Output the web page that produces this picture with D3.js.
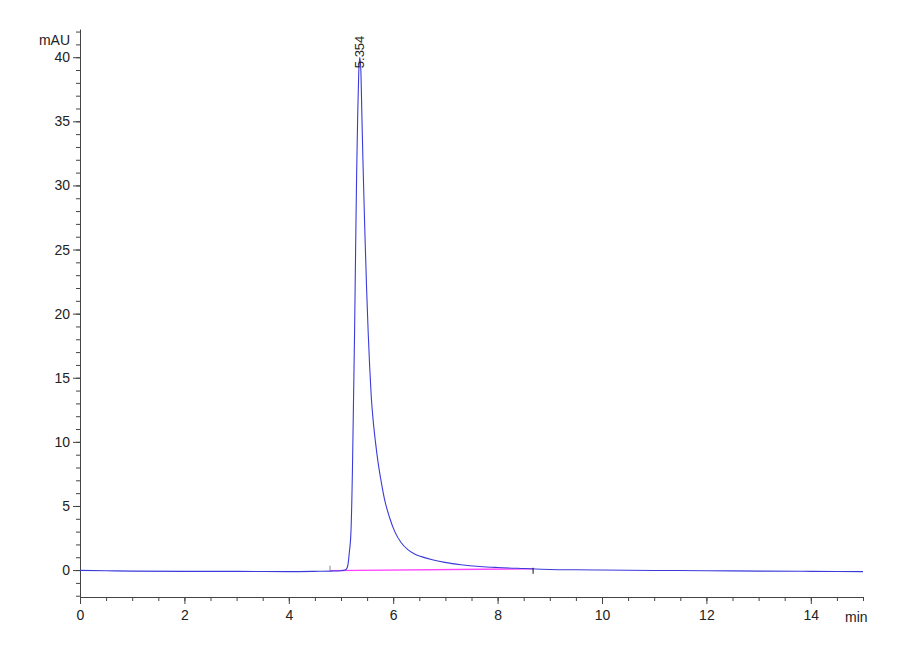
<!DOCTYPE html>
<html>
<head>
<meta charset="utf-8">
<script src="https://cdn.jsdelivr.net/npm/d3@7"></script>
<style>
  body { margin: 0; background: #fff; }
  svg text { font-family: "Liberation Sans Narrow", "Liberation Sans", Arial, sans-serif; fill: #222; }
</style>
</head>
<body>
<svg id="chart" width="900" height="660"></svg>
<script>
// chromatogram trace (time in min, signal in mAU)
const times = [0, 0.5, 1, 2, 3, 4, 4.5, 4.8, 5.0, 5.08, 5.12, 5.14, 5.16, 5.19, 5.22, 5.24,
    5.26, 5.28, 5.30, 5.32, 5.34, 5.36, 5.38, 5.40, 5.42, 5.44, 5.46, 5.49, 5.52, 5.55,
    5.58, 5.62, 5.66, 5.71, 5.77, 5.83, 5.93, 6.03, 6.15, 6.28, 6.4, 6.54, 6.75, 6.99, 7.3,
    7.66, 8.0, 8.5, 9.0, 9.5, 10, 11, 12, 13, 14, 15];
const signal = [-0.02, -0.05, -0.08, -0.1, -0.1, -0.12, -0.1, -0.08, -0.05, 0.0, 0.2, 0.6, 1.4, 2.9, 8.0, 13.3,
    18.5, 25, 31, 35.5, 38.8, 40.0, 39.0, 35.5, 32.0, 28.9, 26.0, 22.0, 18.6, 15.8,
    13.5, 11.5, 10.0, 8.4, 6.9, 5.6, 4.1, 3.0, 2.15, 1.6, 1.28, 1.05, 0.8, 0.6, 0.42,
    0.28, 0.2, 0.12, 0.05, 0.02, 0.0, -0.03, -0.05, -0.08, -0.1, -0.12];

// integration baseline (start / end of peak)
const baseTimes = [4.79, 8.68];
const baseSignal = [-0.05, 0.1];

// peak annotation
const peakTime = 5.354;
const peakHeight = 40.0;
const peakLabel = "5.354";

const xTicks = [0, 2, 4, 6, 8, 10, 12, 14];
const yTicks = [0, 5, 10, 15, 20, 25, 30, 35, 40];

const svg = d3.select('#chart');

const x = d3.scaleLinear().domain([0, 15]).range([80, 863]);
const y = d3.scaleLinear().domain([-2.1, 42.2]).range([597, 29]);

const axisColor = '#444';

// minor ticks first, then major ones on top
svg.append('g')
    .attr('transform', 'translate(0,597)')
    .call(d3.axisBottom(x).tickValues(d3.range(0, 15.01, 0.5)).tickSize(4).tickFormat(''))
    .call(g => g.select('.domain').remove());

svg.append('g')
    .attr('transform', 'translate(80,0)')
    .call(d3.axisLeft(y).tickValues(d3.range(-2, 42.01, 1)).tickSize(4).tickFormat(''))
    .call(g => g.select('.domain').remove());

const xAxis = svg.append('g')
    .attr('transform', 'translate(0,597)')
    .call(d3.axisBottom(x).tickValues(xTicks).tickSize(7).tickSizeOuter(0).tickPadding(6));

const yAxis = svg.append('g')
    .attr('transform', 'translate(80,0)')
    .call(d3.axisLeft(y).tickValues(yTicks).tickSize(7).tickSizeOuter(0).tickPadding(3));

svg.selectAll('.tick line').attr('stroke', axisColor);
svg.selectAll('.domain').attr('stroke', axisColor);
svg.selectAll('.tick text').attr('font-size', 14).attr('fill', '#222')
    .style('font-family', '"Liberation Sans Narrow", "Liberation Sans", Arial, sans-serif');

// unit labels
svg.append('text')
    .attr('x', 70).attr('y', 45)
    .attr('text-anchor', 'end')
    .attr('font-size', 14)
    .text('mAU');

svg.append('text')
    .attr('x', 845).attr('y', 622)
    .attr('font-size', 14)
    .text('min');

// baseline drawn under the trace
svg.append('path')
    .datum(d3.zip(baseTimes, baseSignal))
    .attr('fill', 'none')
    .attr('stroke', '#ff44ff')
    .attr('stroke-width', 1.3)
    .attr('d', d3.line().x(d => x(d[0])).y(d => y(d[1])));

const line = d3.line()
    .x(d => x(d[0]))
    .y(d => y(d[1]))
    .curve(d3.curveMonotoneX);

svg.append('path')
    .datum(d3.zip(times, signal))
    .attr('fill', 'none')
    .attr('stroke', '#3b3bdc')
    .attr('stroke-width', 1.1)
    .attr('d', line);

// peak start / end markers
svg.append('line')
    .attr('x1', x(baseTimes[0])).attr('x2', x(baseTimes[0]))
    .attr('y1', y(baseSignal[0])).attr('y2', y(baseSignal[0]) - 5)
    .attr('stroke', '#888');
svg.append('line')
    .attr('x1', x(baseTimes[1])).attr('x2', x(baseTimes[1]))
    .attr('y1', y(baseSignal[1]) - 1).attr('y2', y(baseSignal[1]) + 5)
    .attr('stroke', '#111');

// retention time label, rotated
svg.append('text')
    .attr('transform', 'translate(' + (x(peakTime) + 5) + ',' + (y(peakHeight) + 11) + ') rotate(-90)')
    .attr('font-size', 13)
    .text(peakLabel);
</script>
</body>
</html>
